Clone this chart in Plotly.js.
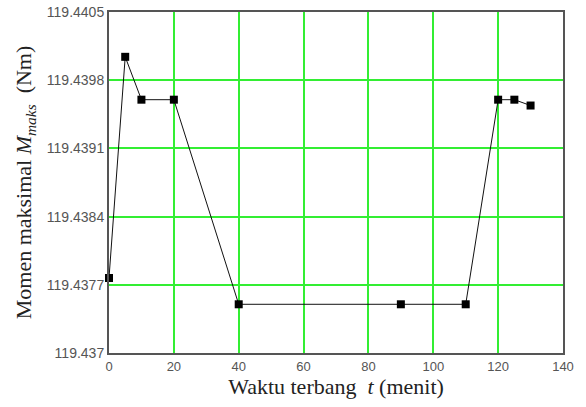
<!DOCTYPE html>
<html>
<head>
<meta charset="utf-8">
<script src="https://cdn.plot.ly/plotly-3.0.1.min.js"></script>
<style>html,body{margin:0;padding:0;background:#fff;}#chart{width:586px;height:407px;}</style>
</head>
<body>
<div id="chart"></div>
<script>
const waktu = [0, 5, 10, 20, 40, 90, 110, 120, 125, 130];
const momen = [119.43777, 119.44004, 119.43960, 119.43960, 119.43750, 119.43750, 119.43750, 119.43960, 119.43960, 119.43954];
const yTickVals = [119.437, 119.4377, 119.4384, 119.4391, 119.4398, 119.4405];
const yTickText = ['119.437', '119.4377', '119.4384', '119.4391', '119.4398', '119.4405'];
const xTickVals = [0, 20, 40, 60, 80, 100, 120, 140];

const trace = {
  x: waktu, y: momen, type: 'scatter', mode: 'lines+markers',
  line: {color: '#111', width: 1},
  marker: {symbol: 'square', size: 8, color: '#000'},
  showlegend: false, cliponaxis: false
};

const layout = {
  width: 586, height: 407,
  margin: {l: 109, r: 23, t: 12, b: 54},
  paper_bgcolor: '#fff', plot_bgcolor: '#fff',
  font: {family: 'Arial, Liberation Sans, sans-serif', color: '#555'},
  xaxis: {
    range: [0, 140], tickvals: xTickVals,
    showgrid: true, gridcolor: '#33ee33', gridwidth: 2,
    zeroline: false, showline: true, linecolor: '#555', linewidth: 2, mirror: true,
    ticks: '', tickfont: {size: 13, color: '#555'},
    title: {text: 'Waktu terbang&nbsp;&nbsp;<i>t</i> (menit)', font: {family: 'Liberation Serif, Times New Roman, serif', size: 22, color: '#222'}, standoff: 4}
  },
  yaxis: {
    range: [119.437, 119.4405], tickvals: yTickVals, ticktext: yTickText,
    showgrid: true, gridcolor: '#33ee33', gridwidth: 2,
    zeroline: false, showline: true, linecolor: '#555', linewidth: 2, mirror: true,
    ticks: '', tickfont: {size: 14, color: '#555'},
    title: {text: 'Momen maksimal <i>M</i><sub><i>maks</i></sub>&nbsp;&nbsp;(Nm)', font: {family: 'Liberation Serif, Times New Roman, serif', size: 22, color: '#222'}, standoff: 9}
  }
};

Plotly.newPlot('chart', [trace], layout, {displayModeBar: false, staticPlot: true});
</script>
</body>
</html>
